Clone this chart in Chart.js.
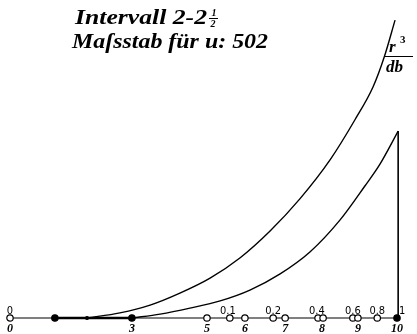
<!DOCTYPE html>
<html lang="de">
<head>
<meta charset="UTF-8">
<title>Intervall 2-2½</title>
<script src="https://cdn.jsdelivr.net/npm/chart.js"></script>
<style>
  body { margin: 0; background: white; }
  canvas { display: block; }
</style>
</head>
<body>
<canvas id="myChart" width="417" height="334"></canvas>
<script>
// obere Kurve r^3/db, x in Teilen der Grundlinie 0..10
const upperX = [1.99, 2.84, 3.62, 4.39, 5.17, 5.94, 6.72, 7.49, 8.27, 8.91, 9.38, 9.67, 9.95];
const upperY = [0, 1.7, 4.3, 8.3, 13.3, 20.0, 29.0, 39.7, 52.7, 66.0, 77.0, 87.0, 99.3];

// untere Kurve, endet oben am senkrechten Strich
const lowerX = [3.15, 3.88, 4.65, 5.43, 6.20, 6.98, 7.75, 8.53, 9.17, 9.56, 10.03];
const lowerY = [0, 1.3, 3.3, 5.7, 9.3, 14.7, 22.0, 32.7, 44.0, 51.3, 62.3];

// Punkte auf der Grundlinie: o = Kreis, f = voll, d = kleiner Punkt
const markX = [0, 1.16, 1.99, 3.15, 5.09, 5.68, 6.07, 6.80, 7.11, 7.96, 8.09, 8.86, 8.99, 9.49, 10.0];
const markType = ['o', 'f', 'd', 'f', 'o', 'o', 'o', 'o', 'o', 'o', 'o', 'o', 'o', 'o', 'f'];

// Beschriftung unter und ueber der Grundlinie
const lowerTickLabels = ['0', '3', '5', '6', '7', '8', '9', '10'];
const lowerTickPos = [0, 3.15, 5.09, 6.07, 7.11, 8.06, 8.99, 10.0];
const upperTickLabels = ['0', '0.1', '0.2', '0.4', '0.6', '0.8', '1'];
const upperTickPos = [0, 5.63, 6.80, 7.93, 8.86, 9.49, 10.13];

const toPoints = (xs, ys) => xs.map((x, i) => ({ x: x, y: ys[i] }));
const endX = lowerX[lowerX.length - 1];
const endY = lowerY[lowerY.length - 1];

const serif = '"Liberation Serif", "DejaVu Serif", serif';
const narrow = '"Liberation Sans Narrow", "DejaVu Sans Condensed", sans-serif';

// Text auf eine feste Breite strecken
function fitText(ctx, text, x, y, width) {
  const w = ctx.measureText(text).width;
  ctx.save();
  ctx.translate(x, y);
  ctx.scale(width / w, 1);
  ctx.fillText(text, 0, 0);
  ctx.restore();
}

const textPlugin = {
  id: 'texte',
  afterDatasetsDraw(chart) {
    const ctx = chart.ctx;
    const xs = chart.scales.x;
    const y0 = chart.scales.y.getPixelForValue(0);
    ctx.save();
    ctx.fillStyle = 'black';
    ctx.strokeStyle = 'black';

    // Titel
    ctx.textAlign = 'left';
    ctx.textBaseline = 'alphabetic';
    ctx.font = 'bold italic 21px ' + serif;
    fitText(ctx, 'Intervall 2-2', 75, 24, 132);
    ctx.font = 'bold italic 10px ' + serif;
    ctx.textAlign = 'center';
    ctx.fillText('1', 214, 16);
    ctx.fillText('2', 213, 27);
    ctx.beginPath();
    ctx.lineWidth = 1;
    ctx.moveTo(209, 18.5);
    ctx.lineTo(218, 18.5);
    ctx.stroke();
    ctx.textAlign = 'left';
    ctx.font = 'bold italic 21px ' + serif;
    fitText(ctx, 'Maſsstab für u: 502', 72, 48, 196);

    // r^3 / db an der oberen Kurve
    ctx.font = 'bold italic 17px ' + serif;
    ctx.fillText('r', 389, 52);
    ctx.font = 'bold 11px ' + serif;
    ctx.fillText('3', 400, 43);
    ctx.beginPath();
    ctx.moveTo(385, 56.5);
    ctx.lineTo(413, 56.5);
    ctx.stroke();
    ctx.font = 'bold italic 17px ' + serif;
    ctx.fillText('db', 386, 72);

    // Zahlen an der Grundlinie
    ctx.textAlign = 'center';
    ctx.font = 'bold italic 12px ' + serif;
    lowerTickLabels.forEach((t, i) => {
      ctx.fillText(t, xs.getPixelForValue(lowerTickPos[i]), y0 + 14);
    });
    ctx.font = '11px ' + narrow;
    upperTickLabels.forEach((t, i) => {
      ctx.fillText(t, xs.getPixelForValue(upperTickPos[i]), y0 - 4);
    });
    ctx.restore();
  }
};

const curve = {
  showLine: true,
  borderColor: 'black',
  borderWidth: 1.4,
  pointRadius: 0,
  cubicInterpolationMode: 'monotone',
  clip: false
};

new Chart(document.getElementById('myChart'), {
  type: 'scatter',
  data: {
    datasets: [
      {
        data: markX.map(x => ({ x: x, y: 0 })),
        pointRadius: markType.map(t => t === 'd' ? 1.5 : 3.2),
        pointBackgroundColor: markType.map(t => t === 'o' ? 'white' : 'black'),
        pointBorderColor: 'black',
        pointBorderWidth: 1.2,
        clip: false
      },
      Object.assign({}, curve, { data: toPoints(upperX, upperY) }),
      Object.assign({}, curve, { data: toPoints(lowerX, lowerY) }),
      Object.assign({}, curve, { data: [{ x: endX, y: 0 }, { x: endX, y: endY }], borderWidth: 1.6 }),
      Object.assign({}, curve, { data: [{ x: 1.16, y: 0 }, { x: 3.15, y: 0 }], borderWidth: 2.4 }),
      Object.assign({}, curve, { data: [{ x: 0, y: 0 }, { x: endX, y: 0 }], borderWidth: 1.2 })
    ]
  },
  options: {
    responsive: false,
    animation: false,
    layout: { padding: { left: 10, right: 20, top: 18, bottom: 16 } },
    scales: {
      x: { type: 'linear', min: 0, max: 10, display: false },
      y: { min: 0, max: 100, display: false }
    },
    plugins: {
      legend: { display: false },
      tooltip: { enabled: false }
    }
  },
  plugins: [textPlugin]
});
</script>
</body>
</html>
